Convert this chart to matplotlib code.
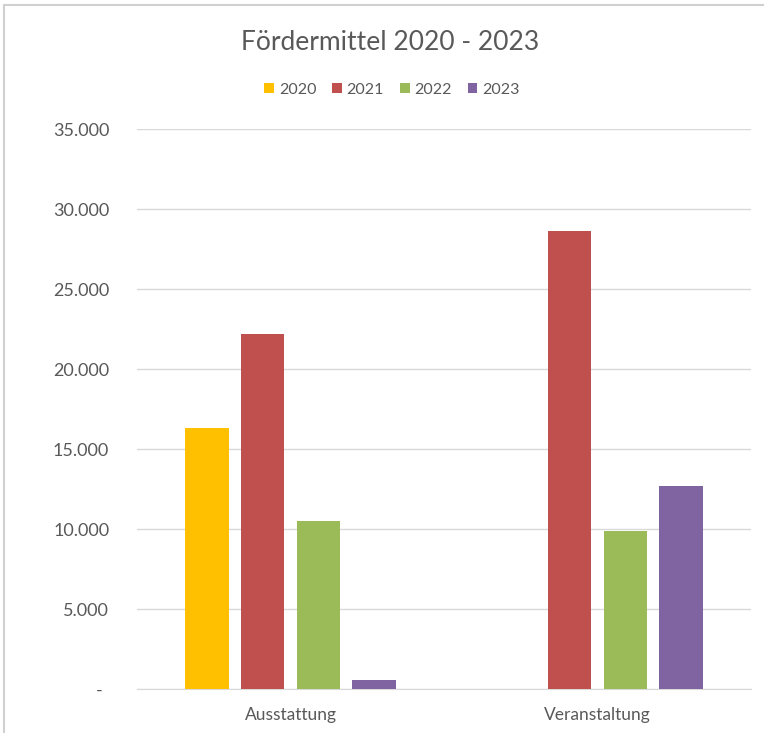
import matplotlib
matplotlib.use("Agg")
import matplotlib.pyplot as plt
from matplotlib.patches import Rectangle
from matplotlib.transforms import ScaledTranslation
import numpy as np

plt.rcParams['font.family'] = ['Lato', 'DejaVu Sans']

title = "Fördermittel 2020 - 2023"
categories = ["Ausstattung", "Veranstaltung"]
years = ["2020", "2021", "2022", "2023"]
values_2020 = [16300, 0]
values_2021 = [22200, 28650]
values_2022 = [10500, 9900]
values_2023 = [600, 12700]
colors = ["#FFC000", "#C0504D", "#9BBB59", "#8064A2"]
yticks = [0, 5000, 10000, 15000, 20000, 25000, 30000, 35000]
ytick_labels = ["-", "5.000", "10.000", "15.000", "20.000", "25.000", "30.000", "35.000"]

series = [values_2020, values_2021, values_2022, values_2023]

fig = plt.figure(figsize=(7.64, 7.33), dpi=100)
ax = fig.add_axes([137/764, 1-689.3/733, 614/764, 560/733])

text_color = "#595959"
x = np.arange(len(categories))
step = 0.181
width = 0.1417
for i, (vals, col, lab) in enumerate(zip(series, colors, years)):
    ax.bar(x + (i - 1.5) * step, vals, width=width, color=col, label=lab, zorder=3)

ax.set_xlim(-0.5, 1.5)
ax.set_ylim(0, 35000)
ax.set_yticks(yticks)
ax.set_yticklabels(ytick_labels)
ax.set_xticks(x)
ax.set_xticklabels(categories)
ax.grid(axis='y', color="#D9D9D9", linewidth=1, zorder=0)
for s in ['left', 'right', 'top']:
    ax.spines[s].set_visible(False)
ax.spines['bottom'].set_color("#D9D9D9")
ax.tick_params(axis='both', length=0, colors=text_color, labelsize=13)
ax.tick_params(axis='y', pad=20)
ax.tick_params(axis='x', pad=13, labelsize=12.5)
dash = ax.get_yticklabels()[0]
dash.set_transform(dash.get_transform() + ScaledTranslation(-7/100, 0, fig.dpi_scale_trans))

fig.text(390/764, 1-42/733, title, ha='center', va='center', fontsize=19, color=text_color)
leg = fig.legend(loc='center', bbox_to_anchor=(392/764, 1-90/733), ncol=4, frameon=False,
                 fontsize=11.5, handlelength=0.6, handleheight=0.6, handletextpad=0.3,
                 columnspacing=1.0, labelcolor=text_color)

fig.patches.append(Rectangle((4/764, -0.1), 1.2, 1-5/733 + 0.1, transform=fig.transFigure,
                             fill=False, edgecolor="#D0D0D0", linewidth=1.5))

fig.savefig("out.png", dpi=100)
